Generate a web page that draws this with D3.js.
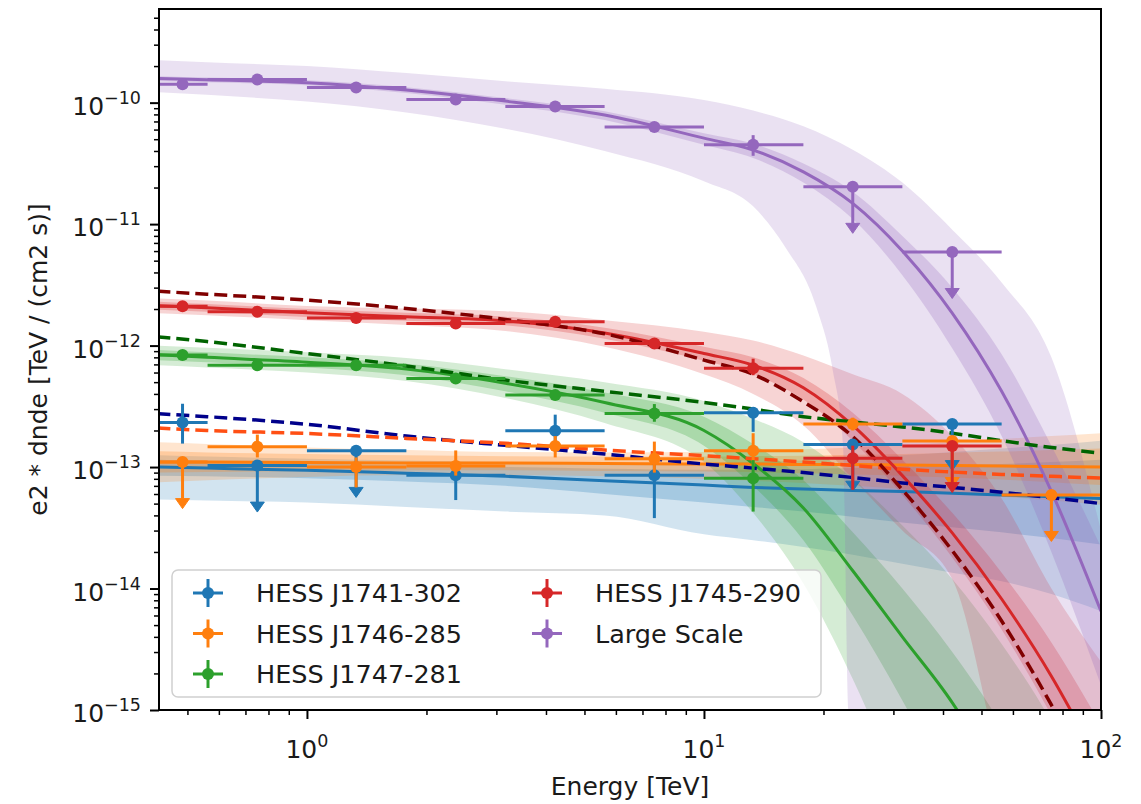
<!DOCTYPE html>
<html><head><meta charset="utf-8">
<script src="https://cdn.jsdelivr.net/npm/d3@7"></script>
<style>
body{margin:0;background:#fff}
svg{display:block}
text{font-family:"DejaVu Sans",sans-serif;fill:#1a1a1a}
</style>
</head><body>
<svg id="chart" width="1141" height="804"></svg>
<script>
// ---------------- DATA ----------------
// model grid energies [TeV]
const modelEnergy = [0.42, 0.56, 1.0, 1.78, 3.16, 5.62, 10, 13.3, 17.8, 23.7, 31.6, 42.2, 56.2, 75, 100];
// flux point bins [TeV]
const binEdges  = [0.42, 0.562, 1, 1.78, 3.16, 5.62, 10, 17.8, 31.6, 56.2, 100];
const binCenter = [0.486, 0.75, 1.33, 2.37, 4.22, 7.5, 13.3, 23.7, 42.2, 75];

const sourceNames = ["HESS J1741-302", "HESS J1746-285", "HESS J1747-281", "HESS J1745-290", "Large Scale"];
const sourceColors = ["#1f77b4", "#ff7f0e", "#2ca02c", "#d62728", "#9467bd"];
const refColors = ["#00008b", "#ff4f14", "#006400", "#800000", null];

// --- HESS J1741-302 (blue)
const blueLine   = [1.0e-13, 9.8e-14, 9.4e-14, 8.9e-14, 8.4e-14, 7.7e-14, 7.1e-14, 6.8e-14, 6.6e-14, 6.4e-14, 6.3e-14, 6.1e-14, 5.9e-14, 5.7e-14, 5.5e-14];
const blueRef    = [2.75e-13, 2.6e-13, 2.25e-13, 1.8e-13, 1.51e-13, 1.28e-13, 1.06e-13, 9.8e-14, 9.0e-14, 8.2e-14, 7.4e-14, 6.8e-14, 6.2e-14, 5.6e-14, 5.0e-14];
const blueInHi   = [1.15e-13, 1.12e-13, 1.07e-13, 1.03e-13, 1.0e-13, 9.7e-14, 9.5e-14, 9.5e-14, 9.6e-14, 9.8e-14, 1.0e-13, 1.03e-13, 1.06e-13, 1.1e-13, 1.15e-13];
const blueInLo   = [8.5e-14, 8.4e-14, 8.1e-14, 7.6e-14, 7.0e-14, 6.0e-14, 5.1e-14, 4.7e-14, 4.3e-14, 3.9e-14, 3.5e-14, 3.2e-14, 2.9e-14, 2.6e-14, 2.3e-14];
const blueOutHi  = [1.25e-13, 1.22e-13, 1.17e-13, 1.13e-13, 1.1e-13, 1.08e-13, 1.08e-13, 1.1e-13, 1.13e-13, 1.18e-13, 1.25e-13, 1.33e-13, 1.42e-13, 1.52e-13, 1.65e-13];
const blueOutLo  = [5.4e-14, 5.3e-14, 5.1e-14, 4.7e-14, 4.3e-14, 4.0e-14, 2.8e-14, 2.5e-14, 2.2e-14, 1.9e-14, 1.6e-14, 1.35e-14, 1.15e-14, 9.0e-15, 6.5e-15];
const blueFlux   = [2.33e-13, 1.03e-13, 1.36e-13, 8.55e-14, 1.99e-13, 8.55e-14, 2.8e-13, 1.53e-13, 2.26e-13, null];
const blueLo     = [1.56e-13, null, null, 5.35e-14, 1.5e-13, 3.8e-14, 1.95e-13, null, null, null];
const blueHi     = [3.32e-13, null, null, 1.1e-13, 2.7e-13, 1.1e-13, 3.1e-13, null, null, null];
const blueUL     = [0, 1, 1, 0, 0, 0, 0, 1, 1, 0];

// --- HESS J1746-285 (orange)
const orangeLine  = [1.1e-13, 1.1e-13, 1.09e-13, 1.08e-13, 1.08e-13, 1.07e-13, 1.06e-13, 1.06e-13, 1.05e-13, 1.05e-13, 1.04e-13, 1.03e-13, 1.02e-13, 1.01e-13, 1.0e-13];
const orangeRef   = [2.1e-13, 2.0e-13, 1.89e-13, 1.72e-13, 1.57e-13, 1.38e-13, 1.24e-13, 1.17e-13, 1.1e-13, 1.03e-13, 9.6e-14, 9.1e-14, 8.7e-14, 8.4e-14, 8.1e-14];
const orangeInHi  = [1.35e-13, 1.32e-13, 1.28e-13, 1.25e-13, 1.23e-13, 1.22e-13, 1.22e-13, 1.23e-13, 1.24e-13, 1.26e-13, 1.28e-13, 1.31e-13, 1.34e-13, 1.38e-13, 1.42e-13];
const orangeInLo  = [9.0e-14, 9.1e-14, 9.3e-14, 9.4e-14, 9.4e-14, 9.3e-14, 9.2e-14, 9.1e-14, 8.9e-14, 8.7e-14, 8.5e-14, 8.2e-14, 7.9e-14, 7.5e-14, 7.1e-14];
const orangeOutHi = [1.6e-13, 1.55e-13, 1.45e-13, 1.38e-13, 1.33e-13, 1.32e-13, 1.33e-13, 1.36e-13, 1.4e-13, 1.45e-13, 1.52e-13, 1.6e-13, 1.7e-13, 1.8e-13, 1.9e-13];
const orangeOutLo = [7.5e-14, 7.8e-14, 8.3e-14, 8.6e-14, 8.6e-14, 8.4e-14, 8.0e-14, 7.7e-14, 7.4e-14, 7.0e-14, 6.6e-14, 6.1e-14, 5.7e-14, 5.3e-14, 4.9e-14];
const orangeFlux  = [1.1e-13, 1.47e-13, 1.0e-13, 1.02e-13, 1.49e-13, 1.17e-13, 1.36e-13, 2.26e-13, 1.64e-13, 5.9e-14];
const orangeLo    = [null, 1.2e-13, 6.8e-14, 8.5e-14, 1.2e-13, 9.0e-14, 1.03e-13, 2.0e-13, null, null];
const orangeHi    = [null, 1.85e-13, 1.2e-13, 1.37e-13, 1.8e-13, 1.62e-13, 1.9e-13, 2.55e-13, null, null];
const orangeUL    = [1, 0, 0, 0, 0, 0, 0, 0, 1, 1];

// --- HESS J1747-281 (green)
const greenLine   = [8.4e-13, 8.0e-13, 7.3e-13, 6.4e-13, 4.9e-13, 3.4e-13, 2.0e-13, 1.07e-13, 4.6e-14, 1.4e-14, 4.0e-15, 1.15e-15, 2.4e-16, 3e-17, 2.5e-18];
const greenRef    = [1.18e-12, 1.08e-12, 8.6e-13, 6.8e-13, 5.2e-13, 4.2e-13, 3.4e-13, 3.0e-13, 2.6e-13, 2.35e-13, 2.14e-13, 1.9e-13, 1.65e-13, 1.45e-13, 1.3e-13];
const greenInHi   = [9.2e-13, 8.8e-13, 8.0e-13, 7.1e-13, 5.6e-13, 4.1e-13, 2.6e-13, 1.55e-13, 7.8e-14, 2.9e-14, 1.0e-14, 3.0e-15, 7.5e-16, 1.3e-16, 1.5e-17];
const greenInLo   = [7.6e-13, 7.3e-13, 6.6e-13, 5.7e-13, 4.2e-13, 2.8e-13, 1.5e-13, 7.0e-14, 2.5e-14, 6e-15, 1.2e-15, 2e-16, 2.5e-17, 2e-18, 1e-19];
const greenOutHi  = [1.0e-12, 9.6e-13, 8.8e-13, 7.9e-13, 6.4e-13, 5.0e-13, 3.5e-13, 2.5e-13, 1.6e-13, 8e-14, 3.3e-14, 1.2e-14, 3.5e-15, 8e-16, 1.2e-16];
const greenOutLo  = [6.9e-13, 6.6e-13, 6.0e-13, 5.1e-13, 3.7e-13, 2.3e-13, 1.1e-13, 4.2e-14, 1.1e-14, 1.8e-15, 2e-16, 1.5e-17, 1e-18, 5e-20, 1e-21];
const greenFlux   = [8.36e-13, 6.9e-13, 6.9e-13, 5.37e-13, 3.91e-13, 2.76e-13, 8.07e-14, null, null, null];
const greenLo     = [8.0e-13, 6.6e-13, 6.6e-13, 5.1e-13, 3.65e-13, 2.36e-13, 4.3e-14, null, null, null];
const greenHi     = [8.75e-13, 7.2e-13, 7.2e-13, 5.65e-13, 4.2e-13, 3.3e-13, 1.14e-13, null, null, null];
const greenUL     = [0, 0, 0, 0, 0, 0, 0, 0, 0, 0];

// --- HESS J1745-290 (red)
const redLine   = [2.13e-12, 2.05e-12, 1.86e-12, 1.73e-12, 1.6e-12, 1.27e-12, 8.6e-13, 6.9e-13, 4.5e-13, 2.2e-13, 8.5e-14, 2.87e-14, 8.2e-15, 1.9e-15, 3.4e-16];
const redRef    = [2.8e-12, 2.65e-12, 2.37e-12, 2.02e-12, 1.64e-12, 1.25e-12, 7.6e-13, 5.8e-13, 3.45e-13, 1.78e-13, 6.5e-14, 2.05e-14, 5.4e-15, 1.1e-15, 1.8e-16];
const redInHi   = [2.3e-12, 2.2e-12, 2.0e-12, 1.86e-12, 1.73e-12, 1.4e-12, 9.8e-13, 8.0e-13, 5.4e-13, 2.8e-13, 1.15e-13, 4.2e-14, 1.35e-14, 3.6e-15, 7.5e-16];
const redInLo   = [1.97e-12, 1.9e-12, 1.72e-12, 1.6e-12, 1.47e-12, 1.14e-12, 7.5e-13, 5.8e-13, 3.6e-13, 1.65e-13, 5.9e-14, 1.8e-14, 4.6e-15, 9e-16, 1.4e-16];
const redOutHi  = [2.45e-12, 2.35e-12, 2.12e-12, 2.02e-12, 1.92e-12, 1.62e-12, 1.3e-12, 1.1e-12, 8.3e-13, 5.8e-13, 4.0e-13, 1.8e-13, 5.5e-14, 1.0e-14, 2.5e-15];
const redOutLo  = [1.85e-12, 1.78e-12, 1.62e-12, 1.48e-12, 1.32e-12, 9.8e-13, 5.8e-13, 4.0e-13, 2.2e-13, 8e-14, 3e-14, 1.2e-14, 3e-16, 1e-17, 1e-17];
const redFlux   = [2.11e-12, 1.9e-12, 1.69e-12, 1.52e-12, 1.57e-12, 1.04e-12, 6.5e-13, 1.18e-13, 1.49e-13, null];
const redLo     = [2.0e-12, 1.82e-12, 1.62e-12, 1.45e-12, 1.48e-12, 9.6e-13, 5.7e-13, 6.5e-14, null, null];
const redHi     = [2.22e-12, 1.98e-12, 1.77e-12, 1.6e-12, 1.67e-12, 1.12e-12, 7.8e-13, 1.5e-13, null, null];
const redUL     = [0, 0, 0, 0, 0, 0, 0, 0, 1, 0];

// --- Large Scale (purple)
const purpleLine  = [1.58e-10, 1.54e-10, 1.46e-10, 1.27e-10, 1.03e-10, 7.9e-11, 5.1e-11, 4.07e-11, 2.69e-11, 1.48e-11, 6.0e-12, 1.85e-12, 4.2e-13, 6.3e-14, 6.5e-15];
const purpleInHi  = [1.65e-10, 1.61e-10, 1.53e-10, 1.34e-10, 1.09e-10, 8.5e-11, 5.6e-11, 4.6e-11, 3.15e-11, 1.85e-11, 8.0e-12, 3.0e-12, 8.5e-13, 1.5e-13, 2.2e-14];
const purpleInLo  = [1.5e-10, 1.47e-10, 1.39e-10, 1.2e-10, 9.6e-11, 7.2e-11, 4.5e-11, 3.5e-11, 2.2e-11, 1.1e-11, 3.8e-12, 9.5e-13, 1.8e-13, 2.0e-14, 1.6e-15];
const purpleOutHi = [2.24e-10, 2.15e-10, 2.0e-10, 1.75e-10, 1.5e-10, 1.3e-10, 1.05e-10, 8.6e-11, 6.4e-11, 4.1e-11, 2.2e-11, 9e-12, 3.3e-12, 8e-13, 3e-14];
// lower edge of the wide purple band has its own energy samples (it drops steeply near 23 TeV)
const purpleOutLoEnergy = [0.42, 0.56, 1.0, 1.78, 3.16, 5.62, 10, 13.3, 16.0, 19.2, 21.1, 22.4, 23.1, 30, 100];
const purpleOutLo = [1.22e-10, 1.16e-10, 1.02e-10, 8.3e-11, 6.1e-11, 4.0e-11, 2.25e-11, 1.4e-11, 6.5e-12, 2.07e-12, 6.3e-13, 1.5e-13, 1e-15, 1e-18, 1e-18];
const purpleFlux  = [1.42e-10, 1.55e-10, 1.33e-10, 1.06e-10, 9.3e-11, 6.3e-11, 4.5e-11, 2.03e-11, 5.9e-12, null];
const purpleLo    = [1.38e-10, 1.51e-10, 1.29e-10, 1.02e-10, 8.9e-11, 5.9e-11, 3.65e-11, null, null, null];
const purpleHi    = [1.46e-10, 1.59e-10, 1.37e-10, 1.1e-10, 9.7e-11, 6.8e-11, 5.4e-11, null, null, null];
const purpleUL    = [0, 0, 0, 0, 0, 0, 0, 1, 1, 0];

// axis ticks
const xMajorTicks = [1, 10, 100];
const xMajorExp = ["0", "1", "2"];
const xMinorTicks = [0.5, 0.6, 0.7, 0.8, 0.9, 2, 3, 4, 5, 6, 7, 8, 9, 20, 30, 40, 50, 60, 70, 80, 90];
const yMajorTicks = [1e-15, 1e-14, 1e-13, 1e-12, 1e-11, 1e-10];
const yMajorExp = ["\u221215", "\u221214", "\u221213", "\u221212", "\u221211", "\u221210"];
const yMinorTicks = [];
[-15, -14, -13, -12, -11, -10].forEach(p => [2,3,4,5,6,7,8,9].forEach(k => { const v = k * Math.pow(10, p); if (v <= 5.9e-10) yMinorTicks.push(v); }));

const xLabel = "Energy [TeV]";
const yLabel = "e2 * dnde [TeV / (cm2 s)]";

// --------------- build table ---------------
const sources = [
  {line: blueLine, ref: blueRef, inHi: blueInHi, inLo: blueInLo, outHi: blueOutHi, outLo: blueOutLo, flux: blueFlux, lo: blueLo, hi: blueHi, ul: blueUL},
  {line: orangeLine, ref: orangeRef, inHi: orangeInHi, inLo: orangeInLo, outHi: orangeOutHi, outLo: orangeOutLo, flux: orangeFlux, lo: orangeLo, hi: orangeHi, ul: orangeUL},
  {line: greenLine, ref: greenRef, inHi: greenInHi, inLo: greenInLo, outHi: greenOutHi, outLo: greenOutLo, flux: greenFlux, lo: greenLo, hi: greenHi, ul: greenUL},
  {line: redLine, ref: redRef, inHi: redInHi, inLo: redInLo, outHi: redOutHi, outLo: redOutLo, flux: redFlux, lo: redLo, hi: redHi, ul: redUL},
  {line: purpleLine, ref: null, inHi: purpleInHi, inLo: purpleInLo, outHi: purpleOutHi, outLo: purpleOutLo, outLoE: purpleOutLoEnergy, flux: purpleFlux, lo: purpleLo, hi: purpleHi, ul: purpleUL}
].map((s, i) => Object.assign(s, {name: sourceNames[i], color: sourceColors[i], refColor: refColors[i]}));

// --------------- drawing ---------------
const L = 159, R = 1101, T = 9, B = 710;
const svg = d3.select("#chart");
const x = d3.scaleLog().domain([0.424, 100]).range([L, R]);
const y = d3.scaleLog().domain([1e-15, 5.9e-10]).range([B, T]);

svg.append("defs").append("clipPath").attr("id", "plotclip")
  .append("rect").attr("x", L).attr("y", T).attr("width", R - L).attr("height", B - T);
const plot = svg.append("g").attr("clip-path", "url(#plotclip)");

const lineGen = d3.line().x(d => x(d[0])).y(d => y(d[1])).curve(d3.curveMonotoneX);

// band between an upper edge and a lower edge (each with its own energies)
function bandPath(eHi, vHi, eLo, vLo) {
  const up = lineGen(eHi.map((e, i) => [e, vHi[i]]));
  const lowPts = eLo.map((e, i) => [e, vLo[i]]).reverse();
  const low = lineGen(lowPts).replace(/^M/, "L");
  return up + low + "Z";
}

// bands
sources.forEach(s => {
  plot.append("path").attr("d", bandPath(modelEnergy, s.outHi, s.outLoE || modelEnergy, s.outLo))
    .attr("fill", s.color).attr("fill-opacity", 0.2);
  plot.append("path").attr("d", bandPath(modelEnergy, s.inHi, modelEnergy, s.inLo))
    .attr("fill", s.color).attr("fill-opacity", 0.25);
});
// model lines
sources.forEach(s => {
  plot.append("path").attr("d", lineGen(modelEnergy.map((e, i) => [e, s.line[i]])))
    .attr("fill", "none").attr("stroke", s.color).attr("stroke-width", 3);
});
// reference dashed lines
sources.forEach(s => {
  if (!s.ref) return;
  plot.append("path").attr("d", lineGen(modelEnergy.map((e, i) => [e, s.ref[i]])))
    .attr("fill", "none").attr("stroke", s.refColor).attr("stroke-width", 3.5)
    .attr("stroke-dasharray", "13,6");
});
// flux points
function drawPoint(g, cx, cy, color, x0, x1, y0, y1, ul, ulEnd) {
  g.append("line").attr("x1", x0).attr("x2", x1).attr("y1", cy).attr("y2", cy)
    .attr("stroke", color).attr("stroke-width", 3);
  if (ul) {
    g.append("line").attr("x1", cx).attr("x2", cx).attr("y1", cy).attr("y2", ulEnd)
      .attr("stroke", color).attr("stroke-width", 3);
    g.append("path").attr("d", `M${cx - 7},${ulEnd} L${cx + 7},${ulEnd} L${cx},${ulEnd + 10} Z`)
      .attr("fill", color).attr("stroke", color).attr("stroke-width", 1);
  } else if (y0 != null) {
    g.append("line").attr("x1", cx).attr("x2", cx).attr("y1", y0).attr("y2", y1)
      .attr("stroke", color).attr("stroke-width", 3);
  }
  g.append("circle").attr("cx", cx).attr("cy", cy).attr("r", 6).attr("fill", color);
}
sources.forEach(s => {
  const g = plot.append("g");
  s.flux.forEach((v, i) => {
    if (v == null) return;
    drawPoint(g, x(binCenter[i]), y(v), s.color, x(binEdges[i]), x(binEdges[i + 1]),
      s.lo[i] != null ? y(s.lo[i]) : null, s.hi[i] != null ? y(s.hi[i]) : null,
      s.ul[i] === 1, y(v / 2));
  });
});

// axes
const axB = svg.append("g").attr("transform", `translate(0,${B})`)
  .call(d3.axisBottom(x).tickValues(xMajorTicks).tickSize(9).tickFormat(""));
const axBm = svg.append("g").attr("transform", `translate(0,${B})`)
  .call(d3.axisBottom(x).tickValues(xMinorTicks).tickSize(5).tickFormat(""));
const axL = svg.append("g").attr("transform", `translate(${L},0)`)
  .call(d3.axisLeft(y).tickValues(yMajorTicks).tickSize(9).tickFormat(""));
const axLm = svg.append("g").attr("transform", `translate(${L},0)`)
  .call(d3.axisLeft(y).tickValues(yMinorTicks).tickSize(5).tickFormat(""));
[axB, axBm, axL, axLm].forEach(a => { a.select(".domain").remove(); });
[axB, axL].forEach(a => a.selectAll(".tick line").attr("stroke", "#000").attr("stroke-width", 2));
[axBm, axLm].forEach(a => a.selectAll(".tick line").attr("stroke", "#000").attr("stroke-width", 1.5));

svg.append("rect").attr("x", L).attr("y", T).attr("width", R - L).attr("height", B - T)
  .attr("fill", "none").attr("stroke", "#000").attr("stroke-width", 2);

xMajorTicks.forEach((v, i) => {
  const t = svg.append("text").attr("x", x(v)).attr("y", 758).attr("text-anchor", "middle").attr("font-size", 25);
  t.append("tspan").text("10");
  t.append("tspan").attr("dy", -11).attr("font-size", 17.5).text(xMajorExp[i]);
});
yMajorTicks.forEach((v, i) => {
  const t = svg.append("text").attr("x", 141).attr("y", y(v) + 12).attr("text-anchor", "end").attr("font-size", 25);
  t.append("tspan").text("10");
  t.append("tspan").attr("dy", -11).attr("font-size", 17.5).text(yMajorExp[i]);
});

svg.append("text").attr("x", (L + R) / 2).attr("y", 795).attr("text-anchor", "middle")
  .attr("font-size", 25).text(xLabel);
svg.append("text").attr("transform", `translate(47,${(T + B) / 2}) rotate(-90)`)
  .attr("text-anchor", "middle").attr("font-size", 25).text(yLabel);

// legend
const leg = svg.append("g");
leg.append("rect").attr("x", 172).attr("y", 570).attr("width", 649).attr("height", 127)
  .attr("rx", 6).attr("fill", "#fff").attr("fill-opacity", 0.8)
  .attr("stroke", "#d0d0d0").attr("stroke-width", 1.5);
const legendPos = [[208, 593], [208, 633.5], [208, 674], [547, 593], [547, 633.5]];
sources.forEach((s, i) => {
  const [cx, cy] = legendPos[i];
  leg.append("line").attr("x1", cx - 15).attr("x2", cx + 15).attr("y1", cy).attr("y2", cy)
    .attr("stroke", s.color).attr("stroke-width", 3);
  leg.append("line").attr("x1", cx).attr("x2", cx).attr("y1", cy - 14).attr("y2", cy + 14)
    .attr("stroke", s.color).attr("stroke-width", 3);
  leg.append("circle").attr("cx", cx).attr("cy", cy).attr("r", 6).attr("fill", s.color);
  leg.append("text").attr("x", cx + 48).attr("y", cy + 9).attr("font-size", 25.5).text(s.name);
});
</script>
</body></html>
